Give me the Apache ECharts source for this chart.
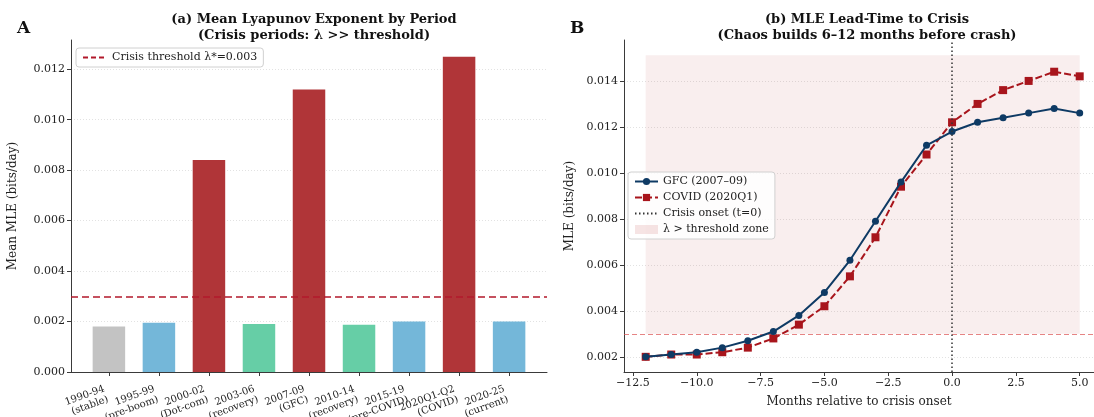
<!DOCTYPE html>
<html>
<head>
<meta charset="utf-8">
<script src="https://cdn.jsdelivr.net/npm/echarts@6/dist/echarts.min.js"></script>
<style>html,body{margin:0;padding:0;background:#fff}#c{width:1094px;height:417px}</style>
</head>
<body>
<div id="c"></div>
<script>
// ---------- Panel A data ----------
const periods = ['1990-94\n(stable)','1995-99\n(pre-boom)','2000-02\n(Dot-com)','2003-06\n(recovery)','2007-09\n(GFC)','2010-14\n(recovery)','2015-19\n(pre-COVID)','2020Q1-Q2\n(COVID)','2020-25\n(current)'];
const periodKinds = ['stable','normal','crisis','recovery','crisis','recovery','normal','crisis','normal'];
const meanMLE = [0.0018, 0.00195, 0.0084, 0.0019, 0.0112, 0.00187, 0.002, 0.0125, 0.002];
const threshold = 0.003;
const yTicksA = [0, 0.002, 0.004, 0.006, 0.008, 0.010, 0.012];

// ---------- Panel B data ----------
const months = [-12,-11,-10,-9,-8,-7,-6,-5,-4,-3,-2,-1,0,1,2,3,4,5];
const gfc   = [0.0020,0.0021,0.0022,0.0024,0.0027,0.0031,0.0038,0.0048,0.0062,0.0079,0.0096,0.0112,0.0118,0.0122,0.0124,0.0126,0.0128,0.0126];
const covid = [0.0020,0.0021,0.0021,0.0022,0.0024,0.0028,0.0034,0.0042,0.0055,0.0072,0.0094,0.0108,0.0122,0.0130,0.0136,0.0140,0.0144,0.0142];
const zoneX = [-12, 5];
const zoneY = [0.003, 0.01512];
const xTicksB = [-12.5,-10,-7.5,-5,-2.5,0,2.5,5];
const yTicksB = [0.002,0.004,0.006,0.008,0.010,0.012,0.014];

// ---------- styles ----------
const FONT = 'DejaVu Serif';
const kindColor = {stable:'#c3c3c3', normal:'#74b7d9', crisis:'#b03538', recovery:'#66cea6'};
const axisCol = '#3a3a3a';
const gridLine = {show:true, lineStyle:{type:[1,2], color:'#e2e2e2', width:1}};

const chart = echarts.init(document.getElementById('c'), null, {renderer:'canvas'});
const fmtMinus = v => v.toFixed(1).replace('-', '\u2212');
const noSym = {opacity:0};
const A_MAX = 0.01316;

const option = {
  animation: false,
  backgroundColor: '#fff',
  textStyle: {fontFamily: FONT},
  title: [
    {text:'(a) Mean Lyapunov Exponent by Period\n(Crisis periods: \u03bb >> threshold)', left:309, top:7, textAlign:'center',
     textStyle:{fontFamily:FONT, fontSize:13, fontWeight:'bold', color:'#111', lineHeight:16}},
    {text:'(b) MLE Lead-Time to Crisis\n(Chaos builds 6\u201312 months before crash)', left:862, top:7, textAlign:'center',
     textStyle:{fontFamily:FONT, fontSize:13, fontWeight:'bold', color:'#111', lineHeight:16}},
    {text:'A', left:12, top:15, textStyle:{fontFamily:FONT, fontSize:17, fontWeight:'bold', color:'#111'}},
    {text:'B', left:565, top:15, textStyle:{fontFamily:FONT, fontSize:17, fontWeight:'bold', color:'#111'}}
  ],
  legend: [
    {data:[{name:'Crisis threshold \u03bb*=0.003', itemStyle:noSym}], left:76, top:48, orient:'vertical', padding:[4,6],
     itemWidth:24, itemHeight:10, backgroundColor:'rgba(255,255,255,0.85)', borderColor:'#d0d0d0', borderWidth:1, borderRadius:3,
     textStyle:{fontFamily:FONT, fontSize:11, color:'#222'}},
    {data:['GFC (2007\u201309)','COVID (2020Q1)',{name:'Crisis onset (t=0)', itemStyle:noSym},{name:'\u03bb > threshold zone', icon:'rect'}],
     left:628, top:172, orient:'vertical', padding:[4,6], itemGap:5,
     itemWidth:23, itemHeight:9, backgroundColor:'rgba(255,255,255,0.85)', borderColor:'#d0d0d0', borderWidth:1, borderRadius:3,
     textStyle:{fontFamily:FONT, fontSize:11, color:'#222'}}
  ],
  grid: [
    {left:71, right:547, top:40, bottom:45, outerBoundsMode:'none'},
    {left:624, right:0, top:40, bottom:45, outerBoundsMode:'none'},
    {left:84, right:560, top:40, bottom:45, outerBoundsMode:'none'}
  ],
  xAxis: [
    {type:'value', gridIndex:0, min:-0.7575, max:8.7575,
     axisLine:{onZero:false, lineStyle:{color:axisCol}}, splitLine:{show:false},
     axisTick:{show:false}, axisLabel:{show:false}},
    {type:'value', gridIndex:1, min:-12.85, max:5.56,
     name:'Months relative to crisis onset', nameLocation:'middle', nameGap:24,
     nameTextStyle:{fontFamily:FONT, fontSize:12, color:'#222'},
     axisLine:{onZero:false, lineStyle:{color:axisCol}}, splitLine:{show:false},
     axisTick:{show:true, customValues:xTicksB, length:4, lineStyle:{color:axisCol}},
     axisLabel:{customValues:xTicksB, formatter:fmtMinus, fontFamily:FONT, fontSize:11, color:'#222', margin:6}},
    {type:'category', gridIndex:2, data:periods, boundaryGap:true,
     axisLine:{show:false}, splitLine:{show:false},
     axisTick:{show:true, alignWithLabel:true, interval:0, length:4, lineStyle:{color:axisCol}},
     axisLabel:{interval:0, rotate:20, align:'right', verticalAlign:'top', padding:[0,7,0,0],
       fontFamily:FONT, fontSize:10, lineHeight:11, color:'#222', margin:9}}
  ],
  yAxis: [
    {type:'value', gridIndex:0, min:0, max:A_MAX,
     name:'Mean MLE (bits/day)', nameLocation:'middle', nameGap:52,
     nameTextStyle:{fontFamily:FONT, fontSize:12, color:'#222'},
     axisLine:{show:true, onZero:false, lineStyle:{color:axisCol}}, splitLine:gridLine,
     axisTick:{show:true, customValues:yTicksA, length:4, lineStyle:{color:axisCol}},
     axisLabel:{customValues:yTicksA, formatter:v=>v.toFixed(3), fontFamily:FONT, fontSize:11, color:'#222', margin:6}},
    {type:'value', gridIndex:1, min:0.00134, max:0.01578,
     name:'MLE (bits/day)', nameLocation:'middle', nameGap:48,
     nameTextStyle:{fontFamily:FONT, fontSize:12, color:'#222'},
     axisLine:{show:true, onZero:false, lineStyle:{color:axisCol}}, splitLine:gridLine,
     axisTick:{show:true, customValues:yTicksB, length:4, lineStyle:{color:axisCol}},
     axisLabel:{customValues:yTicksB, formatter:v=>v.toFixed(3), fontFamily:FONT, fontSize:11, color:'#222', margin:6}},
    {type:'value', gridIndex:2, min:0, max:A_MAX, show:false}
  ],
  series: [
    {type:'bar', xAxisIndex:0, yAxisIndex:0, barWidth:32.5,
     data: meanMLE.map((v,i)=>({value:[i,v], itemStyle:{color:kindColor[periodKinds[i]]}})),
     markLine:{silent:true, precision:6, symbol:['none','none'], label:{show:false},
       lineStyle:{color:'#b2182b', type:[7,4], width:1.5}, data:[{yAxis:threshold}]}},
    {type:'line', name:'Crisis threshold \u03bb*=0.003', xAxisIndex:0, yAxisIndex:0, data:[], symbol:'none',
     color:'#b2182b', lineStyle:{color:'#b2182b', type:[5,3], width:1.5}},
    {type:'line', name:'\u03bb > threshold zone', xAxisIndex:1, yAxisIndex:1, data:[], symbol:'none',
     color:'rgba(178,34,34,0.12)', lineStyle:{width:0},
     markArea:{silent:true, itemStyle:{color:'rgba(178,34,34,0.08)'},
       data:[[{coord:[zoneX[0], zoneY[0]]},{coord:[zoneX[1], zoneY[1]]}]]}},
    {type:'line', name:'Crisis onset (t=0)', xAxisIndex:1, yAxisIndex:1, data:[], symbol:'none',
     color:'#333', lineStyle:{color:'#333', type:[1.5,2.5], width:1.5},
     markLine:{silent:true, precision:6, symbol:['none','none'], label:{show:false},
       lineStyle:{color:'#333', type:[1.5,2.5], width:1.5}, data:[{xAxis:0}]}},
    {type:'line', name:'GFC (2007\u201309)', xAxisIndex:1, yAxisIndex:1,
     data: months.map((m,i)=>[m,gfc[i]]), symbol:'circle', symbolSize:7, z:4,
     color:'#0e3a64', lineStyle:{color:'#0e3a64', width:2}, itemStyle:{color:'#0e3a64'},
     markLine:{silent:true, precision:6, symbol:['none','none'], label:{show:false}, z:1,
       lineStyle:{color:'rgba(220,80,80,0.7)', type:[5,3], width:1}, data:[{yAxis:threshold}]}},
    {type:'line', name:'COVID (2020Q1)', xAxisIndex:1, yAxisIndex:1,
     data: months.map((m,i)=>[m,covid[i]]), symbol:'rect', symbolSize:8, z:3,
     color:'#a8151c', lineStyle:{color:'#a8151c', width:2, type:[7,3]}, itemStyle:{color:'#a8151c'}}
  ]
};
chart.setOption(option);
</script>
</body>
</html>
